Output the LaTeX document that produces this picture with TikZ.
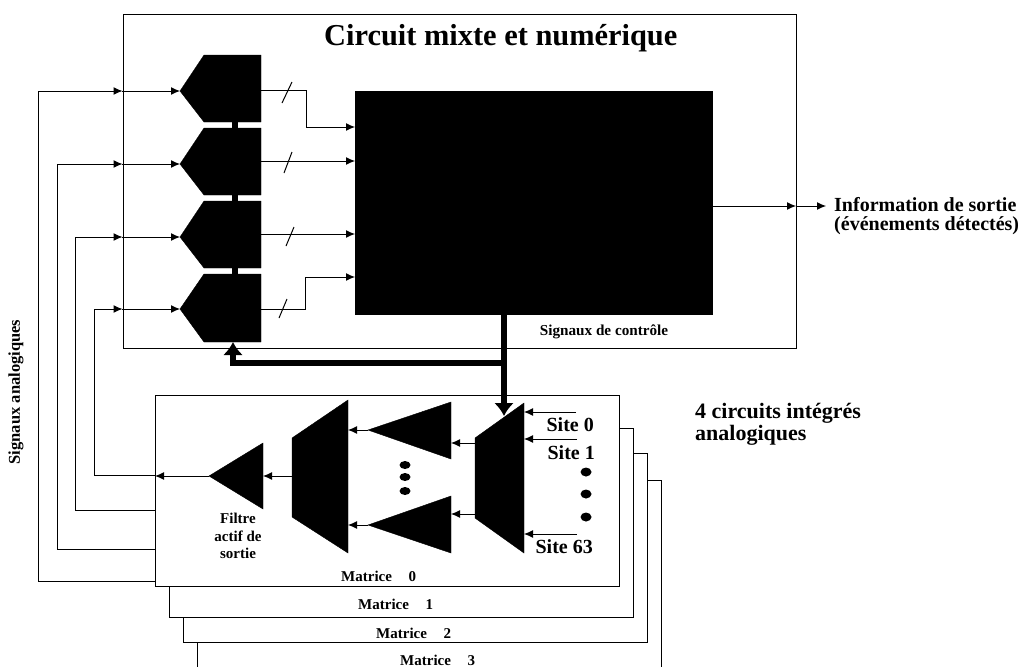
\documentclass[tikz,border=0pt]{standalone}
\usepackage{fontspec}
\setmainfont{Liberation Serif}
\usetikzlibrary{arrows.meta}
\tikzset{
  lbl/.style={font=\fontsize{#1}{#1}\selectfont\bfseries,inner sep=0pt,align=center},
  solid black/.style={fill=black,draw=black,line width=0.4pt},
  ln/.style={line width=1pt},
  ar/.style={ln,-{Latex[length=9pt,width=8pt]}},
  far/.style={line width=5.5pt,-{Latex[length=13pt,width=20pt]}},
}
\begin{document}
\begin{tikzpicture}[x=1pt,y=-1pt]
\useasboundingbox (0,0) rectangle (1025,667);
% boxes
\node[draw,line width=1pt,minimum width=673pt,minimum height=334pt,anchor=north west,inner sep=0pt] (mixte) at (122.5,14) {};
\node[draw,line width=1pt,minimum width=464pt,minimum height=191pt,anchor=north west,inner sep=0pt] (mat0) at (155,395) {};
\draw[ln] (619,428) -- (633,428) -- (633,617) -- (169,617) -- (169,586);
\draw[ln] (633,453) -- (647,453) -- (647,642) -- (183,642) -- (183,617);
\draw[ln] (647,480) -- (661,480) -- (661,667);
\draw[ln] (197,642) -- (197,667);
% convertisseurs
\foreach \name/\ytop/\ytip/\ybot in {adc1/55/91/122,adc2/128/164/195,adc3/201/237/268,adc4/274/309/342}{
  \fill[solid black] (180,\ytip) -- (204,\ytop) -- (261,\ytop) -- (261,\ybot) -- (204,\ybot) -- cycle;
  \coordinate (\name) at (180,\ytip);
}
\fill (232,120) rectangle (238,130);
\fill (232,193) rectangle (238,203);
\fill (232,266) rectangle (238,276);
% processeur
\node[fill=black,draw=black,minimum width=357pt,minimum height=223pt,anchor=north west,inner sep=0pt] (proc) at (355,91) {};
% entrees
\foreach \name/\xx/\ybot in {adc1/38/581,adc2/57/549,adc3/75/510,adc4/94/475}{
  \draw[ln] (155,\ybot) -- (\xx,\ybot) -- (\xx,0 |- \name);
  \draw[ar] (\xx,0 |- \name) -- (122.5,0 |- \name);
  \draw[ar] (122,0 |- \name) -- (\name);
}
% sorties numeriques
\draw[ln] (261,90) -- (306,90) -- (306,127);
\draw[ar] (306,127) -- (355,127);
\draw[ar] (261,161) -- (355,161);
\draw[ar] (261,234) -- (355,234);
\draw[ln] (261,309) -- (305,309) -- (305,277);
\draw[ar] (305,277) -- (355,277);
\draw[ln] (282,103) -- (292,82);
\draw[ln] (284,173) -- (292,152);
\draw[ln] (286,246) -- (294,227);
\draw[ln] (279,318) -- (287,299);
% sortie
\coordinate (sortie) at (826,206);
\draw[ar] (proc.east |- sortie) -- (796,206);
\draw[ar] (796,206) -- (sortie);
\node[lbl=20,anchor=west,align=left] (info) at (834,216) {Information de sortie\\[-1.5pt](événements détectés)};
% bus de controle
\draw[far] (504,314) -- (504,416);
\draw[far] (504,363) -- (233,363) -- (233,342);
% matrice 0
\fill[solid black] (292,438) -- (348,400) -- (348,553) -- (292,517) -- cycle;
\fill[solid black] (209,476) -- (263,443) -- (263,509) -- cycle;
\fill[solid black] (368,430) -- (451,402) -- (451,459) -- cycle;
\fill[solid black] (368,525) -- (451,496) -- (451,553) -- cycle;
\fill[solid black] (475,438) -- (524,403) -- (524,553) -- (475,518) -- cycle;
\draw[ar] (292,476) -- (263,476);
\draw[ar] (209,476) -- (155,476);
\draw[ar] (368,430) -- (348,430);
\draw[ar] (368,525) -- (348,525);
\draw[ar] (475,443) -- (451,443);
\draw[ar] (475,514) -- (451,514);
\draw[ar] (576,412) -- (524,412);
\draw[ar] (577,439) -- (524,439);
\draw[ar] (577,534) -- (524,534);
\foreach \yy in {465,477,491}{
  \fill (405,\yy) ellipse (5.5pt and 4pt);
}
\foreach \yy in {472,494,517}{
  \fill (586,\yy) ellipse (5.5pt and 4.5pt);
}
% textes
\node[lbl=30.4,anchor=west] (titre) at (324,38) {Circuit mixte et numérique};
\node[lbl=15.2] (ctrl) at (604,332) {Signaux de contrôle};
\node[lbl=16.5,rotate=90] (anal) at (16,392) {Signaux analogiques};
\node[lbl=22,anchor=west,align=left] (ci) at (695,424) {4 circuits intégrés\\analogiques};
\node[lbl=20,anchor=east] (s0) at (594,425) {Site 0};
\node[lbl=20,anchor=east] (s1) at (595,453) {Site 1};
\node[lbl=20,anchor=east] (s63) at (593,547) {Site 63};
\node[lbl=15] (filtre) at (238,536) {Filtre\\[2.5pt]actif de\\[2.5pt]sortie};
\node[lbl=15,anchor=west] (m0) at (341,576) {Matrice\hspace{1.1em}0};
\node[lbl=15,anchor=west] (m1) at (358,604) {Matrice\hspace{1.1em}1};
\node[lbl=15,anchor=west] (m2) at (376,633) {Matrice\hspace{1.1em}2};
\node[lbl=15,anchor=west] (m3) at (400,660) {Matrice\hspace{1.1em}3};
\end{tikzpicture}
\end{document}
